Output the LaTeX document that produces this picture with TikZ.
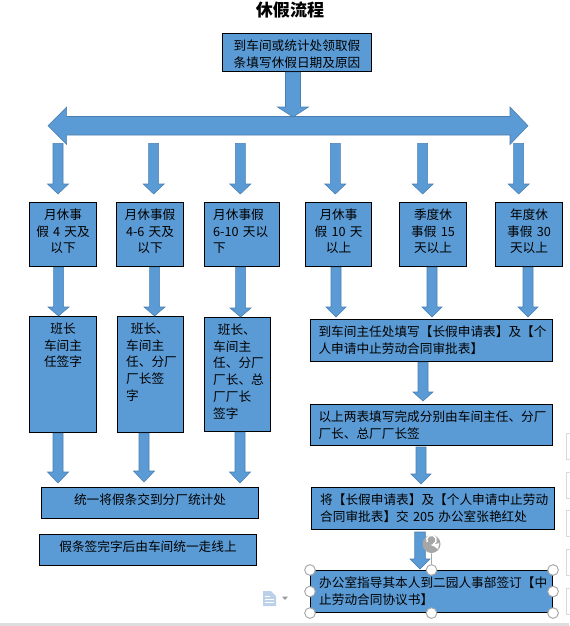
\documentclass[tikz,border=0pt]{standalone}
\usepackage{fontspec}
\setmainfont{Noto Sans CJK SC}
\usetikzlibrary{calc}
\definecolor{boxblue}{HTML}{5B9BD5}
\definecolor{edgeblue}{HTML}{4A7DB0}
\definecolor{handlegray}{HTML}{A6A6A6}
\definecolor{iconblue}{HTML}{BDD0EA}
\tikzset{
    flowbox/.style 2 args={draw=black, line width=0.8pt, fill=boxblue, anchor=north west,
        inner sep=0pt, text width=#1*0.75pt, text height=12.4pt, text depth=#2*0.75pt-12.4pt,
        font=\fontsize{9.5pt}{12.7pt}\selectfont},
    blockarrow/.style n args={3}{draw=edgeblue, line width=0.4pt, fill=boxblue, to path={
        let \p1=(\tikztostart), \p2=(\tikztotarget) in
        (\x1-#1*0.375pt,\y1) -- (\x1+#1*0.375pt,\y1) -- (\x1+#1*0.375pt,\y2+#3*0.75pt)
        -- (\x1+#2*0.375pt,\y2+#3*0.75pt) -- (\x2,\y2) -- (\x1-#2*0.375pt,\y2+#3*0.75pt)
        -- (\x1-#1*0.375pt,\y2+#3*0.75pt) -- cycle}},
    handle/.style={circle, draw=handlegray, line width=0.7pt, fill=white, minimum size=8pt, inner sep=0pt},
    sidebox/.style={draw=black!15, line width=0.5pt}
}
\begin{document}
\begin{tikzpicture}[x=0.75pt, y=-0.75pt]
    \useasboundingbox (0,0) rectangle (569,626);

    % Title
    \node (title) at (290,10) {\fontsize{12.8pt}{14pt}\selectfont\bfseries 休假流程};

    % Top box and the wide arrow
    \node[flowbox={149}{38}, align=center, font=\fontsize{9.5pt}{12.7pt}\selectfont] (start) at (222,33)
        {到车间或统计处领取假\\条填写休假日期及原因};
    \coordinate (bartop) at (293,117);
    \draw[fill=boxblue, draw=edgeblue, line width=0.4pt] (48,125.7) -- (66.7,107) -- (66.7,116.5) -- (510,116.5)
        -- (510,107) -- (528,125.7) -- (510,144.5) -- (510,135) -- (66.7,135) -- (66.7,144.5) -- cycle;
    \draw[blockarrow={15}{31}{10}] (start.south -| bartop) to (bartop);

    % Arrows under the wide arrow
    \foreach \name/\xpos in {d1/58, d2/153.7, d3/240.3, d4/335.3, d5/422.7, d6/518.7} {
        \coordinate (\name a) at (\xpos,143.3);
        \coordinate (\name b) at (\xpos,194);
        \draw[blockarrow={10}{21}{10}] (\name a) to (\name b);
    }

    % Leave types
    \node[flowbox={67}{64}, align=center] (leave1) at (29,202) {月休事\\假 4 天及\\以下};
    \node[flowbox={67}{64}, align=center] (leave2) at (116,202) {月休事假\\4-6 天及\\以下};
    \node[flowbox={75}{64}, align=left, xshift=0pt] (leave3) at (204,202) {\hspace*{6.5pt}月休事假\\\hspace*{6.5pt}6-10 天以\\\hspace*{6.5pt}下};
    \node[flowbox={66}{64}, align=center] (leave4) at (305,202) {月休事\\假 10 天\\以上};
    \node[flowbox={67}{64}, align=center] (leave5) at (399,202) {季度休\\事假 15\\天以上};
    \node[flowbox={67}{64}, align=center] (leave6) at (495,202) {年度休\\事假 30\\天以上};

    % Who signs
    \node[flowbox={67}{116}, align=center] (sign1) at (29,316) {班长\\车间主\\任签字};
    \node[flowbox={66}{116}, align=left] (sign2) at (117,316) {\hspace*{10pt}班长、\\\hspace*{6.5pt}车间主\\\hspace*{6.5pt}任、分厂\\\hspace*{6.5pt}厂长签\\\hspace*{6.5pt}字};
    \node[flowbox={66}{114}, align=left] (sign3) at (204,317) {\hspace*{10pt}班长、\\\hspace*{6.5pt}车间主\\\hspace*{6.5pt}任、分厂\\\hspace*{6.5pt}厂长、总\\\hspace*{6.5pt}厂厂长\\\hspace*{6.5pt}签字};

    % Long leave steps
    \node[flowbox={242}{42}, align=left] (form1) at (310,319)
        {\hspace*{6pt}到车间主任处填写【长假申请表】及【个\\\hspace*{6pt}人申请中止劳动合同审批表】};
    \node[flowbox={242}{41}, align=left] (form2) at (310,404)
        {\hspace*{6pt}以上两表填写完成分别由车间主任、分厂\\\hspace*{6pt}厂长、总厂厂长签};
    \node[flowbox={243}{42}, align=left] (form3) at (311,487)
        {\hspace*{6.5pt}将【长假申请表】及【个人申请中止劳动\\\hspace*{6.5pt}合同审批表】交 205 办公室张艳红处};
    \node[flowbox={242}{42}, align=left] (form4) at (310,570)
        {\hspace*{6.5pt}办公室指导其本人到二园人事部签订【中\\\hspace*{6.5pt}止劳动合同协议书】};

    % Short leave boxes
    \node[flowbox={217}{31}, align=center] (hand) at (41,487) {统一将假条交到分厂统计处};
    \node[flowbox={217}{31}, align=center] (note) at (39,534) {假条签完字后由车间统一走线上};

    % Arrows between the boxes
    \foreach \from/\to/\dx in {leave1/sign1/-4.5, leave2/sign2/4, leave3/sign3/3} {
        \coordinate (tip) at ($(\to.north)+(\dx,0)$);
        \draw[blockarrow={10}{21}{9}] (\from.south -| tip) to (tip);
    }
    \coordinate (tipf) at (336,317);
    \draw[blockarrow={10}{20}{10}] (leave4.south -| tipf) to (tipf);
    \coordinate (tipg) at (432,317);
    \draw[blockarrow={10}{20}{10}] (leave5.south -| tipg) to (tipg);
    \coordinate (tiph) at (528,317);
    \draw[blockarrow={10}{20}{10}] (leave6.south -| tiph) to (tiph);

    \coordinate (tipa) at (58,483);
    \draw[blockarrow={10}{21}{11}] (sign1.south -| tipa) to (tipa);
    \coordinate (tipb) at (144,482);
    \draw[blockarrow={10}{21}{11}] (sign2.south -| tipb) to (tipb);
    \coordinate (tipc) at (240,483);
    \draw[blockarrow={10}{21}{11}] (sign3.south -| tipc) to (tipc);

    \coordinate (tipj) at (423,401);
    \draw[blockarrow={10}{20}{9}] (form1.south -| tipj) to (tipj);
    \coordinate (tipk) at (421,484);
    \coordinate (topk) at (421,447);
    \draw[blockarrow={10}{20}{10}] (topk) to (tipk);
    \coordinate (tipm) at (420,569);
    \coordinate (topm) at (420,532);
    \draw[blockarrow={10.5}{20}{10}] (topm) to (tipm);

    % Selection handles of the last box
    \node[circle, fill=handlegray, minimum size=13.5pt, inner sep=0pt] (rotate) at (431.5,544) {};
    \draw[white, line width=1.1pt, ->, >=latex] ($(rotate)+(-3.3pt,1.5pt)$) arc[start angle=205, end angle=-100, radius=3.6pt];
    \draw[handlegray, line width=0.5pt] (rotate) -- (form4.north);
    \foreach \where in {north west, north, north east, west, east, south west, south, south east} {
        \node[handle] at (form4.\where) {};
    }

    % Word window leftovers
    \fill[iconblue] (263,591) -- (271,591) -- (276,596) -- (276,606) -- (263,606) -- cycle;
    \draw[white, line width=0.6pt] (265,596) -- (270,596) (265,599) -- (274,599) (265,602) -- (274,602);
    \fill[black!40] (282,596.5) -- (288,596.5) -- (285,600) -- cycle;
    \foreach \ytop in {433, 472, 510, 549, 588} {
        \draw[sidebox] (572,\ytop) -- (566.5,\ytop) -- (566.5,\ytop+26) -- (572,\ytop+26);
    }
    \fill[black!13] (0,622.5) rectangle (569,626);
\end{tikzpicture}
\end{document}
